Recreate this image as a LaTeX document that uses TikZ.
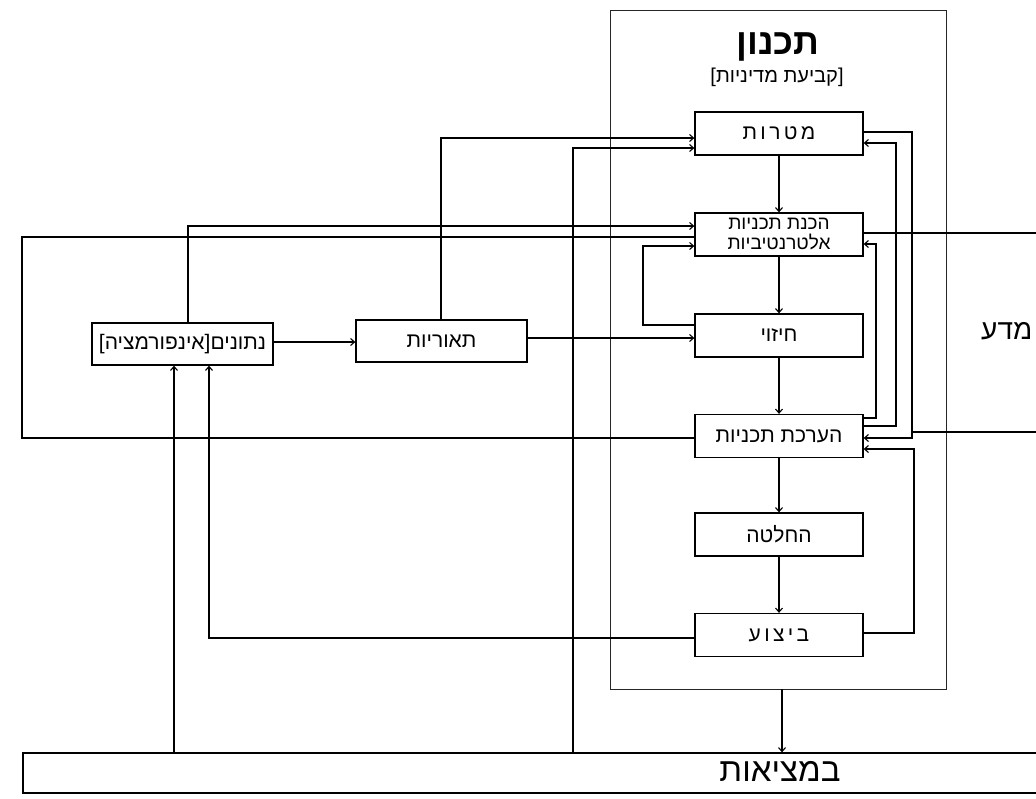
\documentclass[tikz,border=0pt]{standalone}
\usepackage{fontspec}
\usetikzlibrary{arrows.meta}
\TeXXeTstate=1
\newfontfamily\heb[Script=Hebrew]{Liberation Sans}
\newfontfamily\hebsp[Script=Hebrew,LetterSpace=16]{Liberation Sans}
\tikzset{
  box/.style={draw, line width=1.3pt, minimum width=168pt, minimum height=43pt,
    inner sep=0pt, align=center, font=\heb\fontsize{21}{18}\selectfont},
  conn/.style={line width=1.1pt},
  arr/.style={conn, -{Straight Barb[length=4pt,width=7pt]}},
  frame/.style={draw, line width=0.9pt, black!85, minimum width=336pt, minimum height=679pt, inner sep=0pt},
}
\begin{document}
\begin{tikzpicture}[x=1pt,y=-1pt]
\useasboundingbox (0,0) rectangle (1036,798);
% planning frame
\node[frame] (plan) at (778,349.5) {};
\node[font=\heb\bfseries\fontsize{36}{38}\selectfont] (title) at (778,47) {\beginR תכנון\endR};
\node[font=\heb\fontsize{20}{22}\selectfont] (sub) at (777,77) {]\beginR קביעת מדיניות\endR[};
% planning boxes
\node[box] (goal) at (779,133.5) {\hebsp\beginR מטרות\endR};
\node[box, font=\heb\fontsize{19}{20}\selectfont] (alt)  at (779,234.5) {\beginR הכנת תכניות\endR\\\beginR אלטרנטיביות\endR};
\node[box] (fore) at (779,335.5) {\beginR חיזוי\endR};
\node[box] (eval) at (779,436)   {\beginR הערכת תכניות\endR};
\node[box] (dec)  at (779,534.5) {\beginR החלטה\endR};
\node[box] (exe)  at (779,635)   {\hebsp\beginR ביצוע\endR};
% left boxes
\node[box, minimum width=181pt, minimum height=42pt] (data) at (182.5,344) {]\beginR אינפורמציה\endR[\beginR נתונים\endR};
\node[box, minimum width=171pt, minimum height=42pt] (theo) at (441.5,341) {\beginR תאוריות\endR};
% reality
\node[draw, line width=1.3pt, minimum width=1037pt, minimum height=40pt, inner sep=0pt] (real) at (541.5,773) {};
\node[font=\heb\fontsize{33}{35}\selectfont] (realtxt) at (780,771) {\beginR במציאות\endR};
% science label
\node[anchor=west, inner sep=0pt, font=\heb\fontsize{28}{30}\selectfont] (sci) at (981,331) {\beginR מדע\endR};
% science box lines
\draw[conn] (alt.west |- 0,237) -- (22,237) -- (22,438) -- (eval.west |- 0,438);
\draw[conn] (alt.east |- 0,233) -- (1040,233);
\draw[conn] (912,432) -- (1040,432);
% chain
\draw[arr] (goal) -- (alt);
\draw[arr] (alt) -- (fore);
\draw[arr] (fore) -- (eval);
\draw[arr] (eval) -- (dec);
\draw[arr] (dec) -- (exe);
\draw[arr] (plan.south -| 782,0) -- (real.north -| 782,0);
% right feedback
\draw[arr] (goal.east |- 0,132) -| (912,438) -- (eval.east |- 0,438);
\draw[arr] (eval.east |- 0,426) -| (896,143) -- (goal.east |- 0,143);
\draw[arr] (eval.east |- 0,418) -| (876,244) -- (alt.east |- 0,244);
\draw[arr] (exe.east |- 0,633) -| (914,449) -- (eval.east |- 0,449);
% left loop
\draw[arr] (fore.west |- 0,325) -| (643,246) -- (alt.west |- 0,246);
% left inputs
\draw[arr] (theo.north -| 441,0) -- (441,138) -- (goal.west |- 0,138);
\draw[arr] (real.north -| 573,0) -- (573,148) -- (goal.west |- 0,148);
\draw[arr] (data.north -| 188,0) -- (188,226) -- (alt.west |- 0,226);
\draw[arr] (data.east |- 0,342) -- (theo.west |- 0,342);
\draw[arr] (theo.east |- 0,338) -- (fore.west |- 0,338);
\draw[arr] (exe.west |- 0,638) -- (209,638) -- (data.south -| 209,0);
\draw[arr] (real.north -| 174,0) -- (data.south -| 174,0);
\end{tikzpicture}
\end{document}
